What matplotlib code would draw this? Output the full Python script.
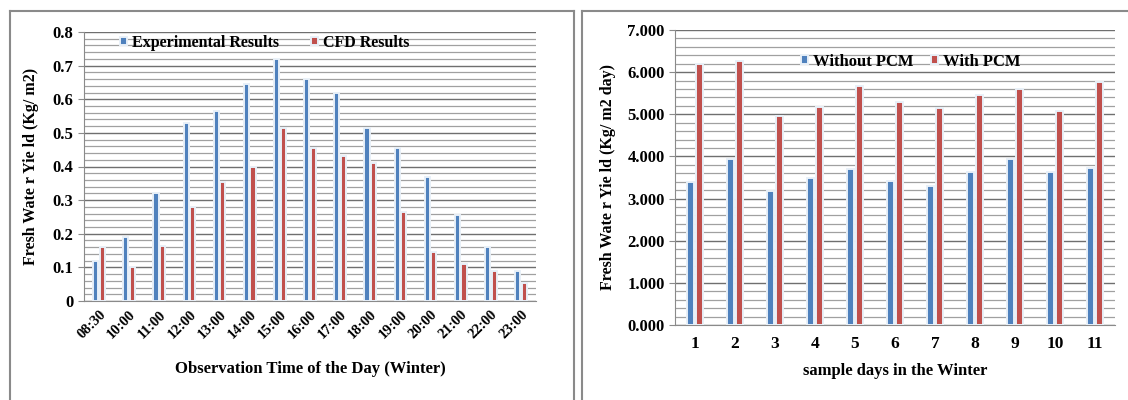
import matplotlib
matplotlib.use("Agg")
import matplotlib.pyplot as plt
import numpy as np
from matplotlib.lines import Line2D
from matplotlib.ticker import MultipleLocator

plt.rcParams['font.family'] = ['Liberation Serif', 'DejaVu Serif']
plt.rcParams['font.weight'] = 'bold'

# Left chart data
times = ["08:30", "10:00", "11:00", "12:00", "13:00", "14:00", "15:00", "16:00",
         "17:00", "18:00", "19:00", "20:00", "21:00", "22:00", "23:00"]
experimental = [0.12, 0.19, 0.32, 0.53, 0.565, 0.645, 0.72, 0.66, 0.62, 0.515,
                0.455, 0.37, 0.255, 0.16, 0.09]
cfd = [0.16, 0.10, 0.165, 0.28, 0.355, 0.40, 0.515, 0.455, 0.43, 0.41,
       0.265, 0.145, 0.11, 0.09, 0.055]

# Right chart data
days = ["1", "2", "3", "4", "5", "6", "7", "8", "9", "10", "11"]
without_pcm = [3.40, 3.95, 3.17, 3.48, 3.70, 3.42, 3.30, 3.63, 3.95, 3.63, 3.73]
with_pcm = [6.20, 6.27, 4.95, 5.17, 5.67, 5.30, 5.14, 5.45, 5.60, 5.07, 5.77]

BLUE = "#4F81BD"
RED = "#C0504D"
HALO = "#e8f0f8"

fig = plt.figure(figsize=(11.28, 4.0), dpi=100)
fig.patch.set_facecolor("white")

# Panel borders
W, H = 1128, 400
def vline(x, y0, y1, lw=1.5, c="#8a8a8a"):
    fig.add_artist(Line2D([x / W, x / W], [1 - y0 / H, 1 - y1 / H], color=c, lw=lw))
def hline(y, x0, x1, lw=1.5, c="#8a8a8a"):
    fig.add_artist(Line2D([x0 / W, x1 / W], [1 - y / H, 1 - y / H], color=c, lw=lw))

vline(10, 11, 400)
vline(574, 11, 400)
vline(582, 11, 400)
hline(11, 10, 574)
hline(11, 582, 1128)


def style_axes(ax, major, minor):
    ax.yaxis.set_major_locator(MultipleLocator(major))
    ax.yaxis.set_minor_locator(MultipleLocator(minor))
    ax.grid(axis="y", which="major", color="#6f6f6f", lw=1.0, zorder=0)
    ax.grid(axis="y", which="minor", color="#a0a0a0", lw=0.9, zorder=0)
    ax.set_axisbelow(True)
    for s in ["top", "right"]:
        ax.spines[s].set_visible(False)
    ax.spines["left"].set_color("#8a8a8a")
    ax.spines["bottom"].set_color("#8a8a8a")
    ax.tick_params(axis="y", which="major", length=4, color="#8a8a8a", labelsize=12)
    ax.tick_params(axis="y", which="minor", length=0)
    ax.tick_params(axis="x", length=0)


# Left chart
ax1 = fig.add_axes([84 / W, 1 - 301 / H, (536 - 84) / W, (301 - 32) / H])
x1 = np.arange(len(times))
w1 = 0.17
ax1.bar(x1 - 0.11, experimental, w1, color=BLUE, edgecolor=HALO, lw=1.4,
        label="Experimental Results", zorder=3)
ax1.bar(x1 + 0.11, cfd, w1, color=RED, edgecolor=HALO, lw=1.4,
        label="CFD Results", zorder=3)
ax1.set_xlim(-0.5, len(times) - 0.5)
ax1.set_ylim(0, 0.8)
style_axes(ax1, 0.1, 0.02)
ax1.yaxis.set_major_formatter(matplotlib.ticker.FuncFormatter(
    lambda v, p: "0" if abs(v) < 1e-9 else f"{v:.1f}"))
ax1.set_xticks(x1)
ax1.set_xticklabels(times, rotation=45, ha="right", rotation_mode="anchor",
                    fontsize=10.5, fontweight="bold")
ax1.tick_params(axis="x", pad=5)
ax1.set_xlabel("Observation Time of the Day (Winter)", fontsize=12,
               fontweight="bold", labelpad=14)
ax1.set_ylabel("Fresh Wate r Yie ld (Kg/ m2)", fontsize=11.5, fontweight="bold",
               labelpad=10)
ax1.legend(loc="upper left", bbox_to_anchor=(0.08, 0.99), ncol=2, frameon=False,
           fontsize=11.5, handlelength=0.45, handleheight=0.45,
           handletextpad=0.3, columnspacing=2.0, borderpad=0, borderaxespad=0)

# Right chart
ax2 = fig.add_axes([675 / W, 1 - 325 / H, (1115 - 675) / W, (325 - 30) / H])
x2 = np.arange(len(days))
w2 = 0.18
ax2.bar(x2 - 0.11, without_pcm, w2, color=BLUE, edgecolor=HALO, lw=1.4,
        label="Without PCM", zorder=3)
ax2.bar(x2 + 0.11, with_pcm, w2, color=RED, edgecolor=HALO, lw=1.4,
        label="With PCM", zorder=3)
ax2.set_xlim(-0.5, len(days) - 0.5)
ax2.set_ylim(0, 7)
style_axes(ax2, 1.0, 0.2)
ax2.yaxis.set_major_formatter(matplotlib.ticker.FormatStrFormatter("%.3f"))
ax2.set_xticks(x2)
ax2.set_xticklabels(days, fontsize=12.5, fontweight="bold")
ax2.tick_params(axis="x", pad=8)
ax2.set_xlabel("sample days in the Winter", fontsize=12, fontweight="bold", labelpad=8)
ax2.set_ylabel("Fresh Wate r Yie ld (Kg/ m2 day)", fontsize=11.5, fontweight="bold",
               labelpad=8)
ax2.legend(loc="upper left", bbox_to_anchor=(0.286, 0.92), ncol=2, frameon=False,
           fontsize=12, handlelength=0.45, handleheight=0.45,
           handletextpad=0.3, columnspacing=1.0, borderpad=0, borderaxespad=0)

fig.savefig("out.png", dpi=100, facecolor="white")
